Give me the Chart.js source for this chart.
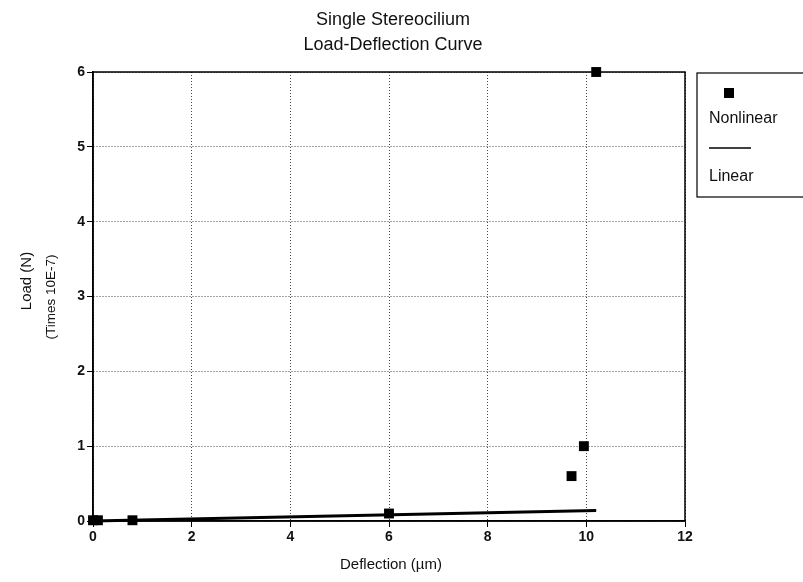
<!DOCTYPE html>
<html>
<head>
<meta charset="utf-8">
<script src="https://cdn.jsdelivr.net/npm/chart.js@4/dist/chart.umd.min.js"></script>
<style>
  html, body { margin: 0; padding: 0; background: #fff; }
  #wrap { width: 803px; height: 582px; }
</style>
</head>
<body>
<div id="wrap"><canvas id="c" width="803" height="582"></canvas></div>
<script>
// Measured load-deflection points (deflection in µm, load in units of 1e-7 N)
const nonlinearX = [0, 0.1, 0.8, 6, 9.7, 9.95, 10.2];
const nonlinearY = [0.01, 0.01, 0.01, 0.1, 0.6, 1.0, 6.0];
// Linear model line
const linearX = [0, 10.2];
const linearY = [0, 0.14];

const titleLines = ['Single Stereocilium', 'Load-Deflection Curve'];
const xTitle = 'Deflection (\u00b5m)';
const yTitle = 'Load (N)';
const ySubTitle = '(Times 10E-7)';
const legendLabels = ['Nonlinear', 'Linear'];

const FONT = '"Liberation Sans", Arial, Helvetica, sans-serif';

const toPts = (xs, ys) => xs.map((x, i) => ({ x, y: ys[i] }));

const decor = {
  id: 'decor',
  afterDatasetsDraw(chart) {
    const ctx = chart.ctx;
    const a = chart.chartArea;
    ctx.save();
    // frame around the plot
    ctx.setLineDash([]);
    ctx.strokeStyle = '#000';
    ctx.lineWidth = 1.5;
    ctx.strokeRect(a.left, a.top, a.right - a.left, a.bottom - a.top);
    ctx.restore();
  },
  afterDraw(chart) {
    const ctx = chart.ctx;
    const a = chart.chartArea;
    ctx.save();
    // chart title
    ctx.fillStyle = '#111';
    ctx.textAlign = 'center';
    ctx.textBaseline = 'middle';
    ctx.font = '18px ' + FONT;
    const cx = (a.left + a.right) / 2 + 4;
    ctx.fillText(titleLines[0], cx, 20);
    ctx.fillText(titleLines[1], cx, 45);

    // x axis title
    ctx.font = '15px ' + FONT;
    ctx.fillText(xTitle, cx - 2, 565);

    // y axis titles (rotated)
    ctx.save();
    ctx.translate(27, 281);
    ctx.rotate(-Math.PI / 2);
    ctx.font = '15px ' + FONT;
    ctx.fillText(yTitle, 0, 0);
    ctx.restore();
    ctx.save();
    ctx.translate(51, 297);
    ctx.rotate(-Math.PI / 2);
    ctx.font = '13.5px ' + FONT;
    ctx.fillText(ySubTitle, 0, 0);
    ctx.restore();

    // legend box
    const lx = 697, ly = 73;
    ctx.lineWidth = 1.2;
    ctx.strokeStyle = '#000';
    ctx.strokeRect(lx, ly, 140, 124);
    const style = chart.data.datasets[0];
    ctx.fillStyle = '#000';
    Chart.helpers.drawPoint(ctx, {
      pointStyle: 'rect', radius: style.pointRadius, rotation: 0, borderWidth: 0
    }, 729, 93);
    ctx.fill();
    ctx.textAlign = 'left';
    ctx.font = '16px ' + FONT;
    ctx.fillStyle = '#111';
    ctx.fillText(legendLabels[0], 709, 119);
    ctx.beginPath();
    ctx.moveTo(709, 148);
    ctx.lineTo(751, 148);
    ctx.lineWidth = 1.5;
    ctx.stroke();
    ctx.fillText(legendLabels[1], 709, 177);
    ctx.restore();
  }
};

const gridOpts = {
  color: '#444',
  lineWidth: 1,
  tickBorderDash: [],
  tickColor: '#000',
  tickLength: 6
};
const tickFont = { family: FONT, size: 14, weight: 'bold' };

new Chart(document.getElementById('c'), {
  type: 'scatter',
  data: {
    datasets: [
      {
        label: legendLabels[0],
        data: toPts(nonlinearX, nonlinearY),
        pointStyle: 'rect',
        pointRadius: 7,
        backgroundColor: '#000',
        borderColor: '#000',
        borderWidth: 0,
        showLine: false,
        clip: false
      },
      {
        label: legendLabels[1],
        data: toPts(linearX, linearY),
        showLine: true,
        pointRadius: 0,
        borderColor: '#000',
        borderWidth: 3,
        clip: false
      }
    ]
  },
  options: {
    responsive: false,
    animation: false,
    layout: { padding: { top: 72, right: 118, left: 0, bottom: 0 } },
    plugins: {
      legend: { display: false },
      title: { display: false },
      tooltip: { enabled: false }
    },
    scales: {
      x: {
        type: 'linear',
        min: 0, max: 12,
        ticks: { stepSize: 2, color: '#111', font: tickFont, padding: 2 },
        grid: gridOpts,
        border: { display: true, color: '#000', width: 1.5, dash: [1, 2] },
        afterFit(s) { s.height = 61; }
      },
      y: {
        type: 'linear',
        min: 0, max: 6,
        ticks: { stepSize: 1, color: '#111', font: tickFont, padding: 2 },
        grid: gridOpts,
        border: { display: true, color: '#000', width: 1.5, dash: [1, 2] },
        afterFit(s) { s.width = 93; }
      }
    }
  },
  plugins: [decor]
});
</script>
</body>
</html>
